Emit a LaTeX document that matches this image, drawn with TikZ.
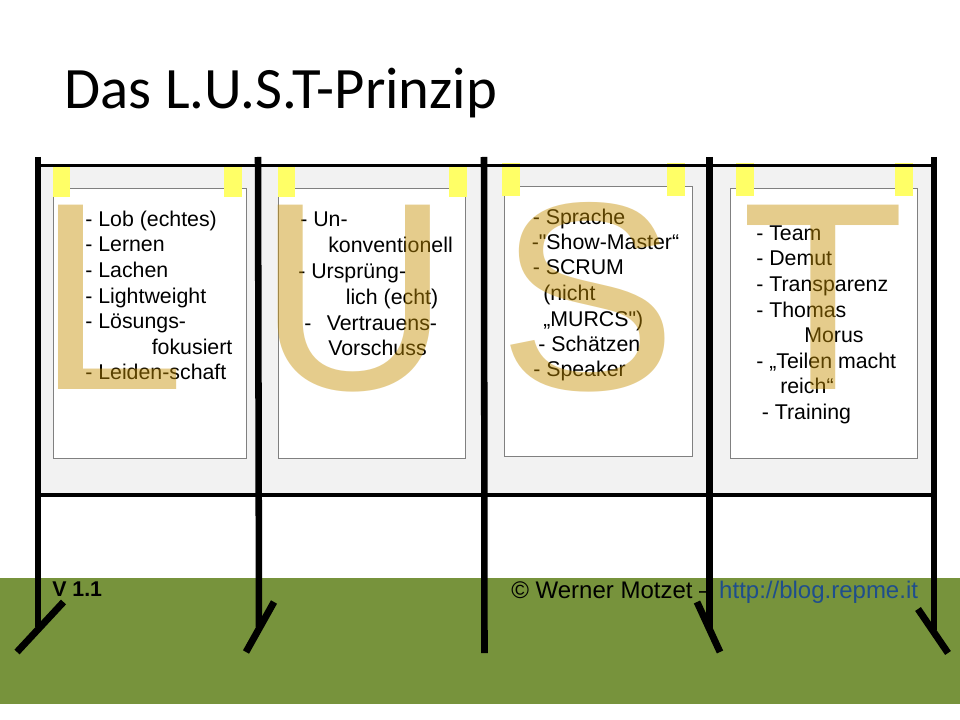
\documentclass[tikz,border=0pt]{standalone}
\usepackage{fontspec}
\setmainfont{Liberation Sans}
\newfontfamily\titlefont{Carlito}
\newfontfamily\bodyfont{Liberation Sans}
\definecolor{panelgrey}{HTML}{F2F2F2}
\definecolor{paperedge}{HTML}{808080}
\definecolor{tapeyellow}{HTML}{FFFF66}
\definecolor{grass}{HTML}{77933C}
\definecolor{urlblue}{HTML}{1F4E8C}
\definecolor{lettercol}{RGB}{199,144,0}
\tikzset{
  panel/.style={fill=panelgrey, draw=none},
  paper/.style={fill=white, draw=paperedge, line width=0.75pt},
  tape/.style={fill=tapeyellow, draw=none},
  post/.style={line width=4.9pt, black},
  bar/.style={line width=2.4pt, black},
  foot/.style={line width=5.2pt, black},
  bodytxt/.style={font=\bodyfont\fontsize{16}{19}\selectfont, anchor=base west, inner sep=0pt},
  bigletter/.style={font=\bodyfont\fontsize{201}{201}\selectfont, text=lettercol, text opacity=0.45, anchor=base west, inner sep=0pt},
}
\begin{document}
\begin{tikzpicture}[x=0.75pt,y=-0.75pt]
\useasboundingbox (0,0) rectangle (960,720);
% ground
\fill[grass] (0,578) rectangle (960,704);
% title
\node[font=\titlefont\fontsize{44}{52}\selectfont, anchor=base west, inner sep=0pt] (title) at (64.5,108.5) {Das L.U.S.T-Prinzip};
% panels
\fill[panel] (38,165) rectangle (258,495);
\fill[panel] (258,165) rectangle (484,495);
\fill[panel] (484,165) rectangle (709,495);
\fill[panel] (709,165) rectangle (934,495);
% papers
\draw[paper] (53.5,188.5) rectangle (246.5,458.5);
\draw[paper] (278.5,188.5) rectangle (465.5,458.5);
\draw[paper] (504.5,186.5) rectangle (692.5,456.5);
\draw[paper] (730.5,188.5) rectangle (917.5,458.5);
% board 1 text
\node[bodytxt] (a1) at (85,226.5) {- Lob (echtes)};
\node[bodytxt] (a2) at (85,252) {- Lernen};
\node[bodytxt] (a3) at (85,277.5) {- Lachen};
\node[bodytxt] (a4) at (85,303) {- Lightweight};
\node[bodytxt] (a5) at (85,328.5) {- Lösungs-};
\node[bodytxt] (a6) at (151.5,354) {fokusiert};
\node[bodytxt] (a7) at (85,379.5) {- Leiden-schaft};
% board 2 text
\node[bodytxt] (b1) at (300,226.5) {- Un-};
\node[bodytxt] (b2) at (328,253) {konventionell};
\node[bodytxt] (b3) at (298,278.5) {- Ursprüng-};
\node[bodytxt] (b4) at (345.5,305) {lich (echt)};
\node[bodytxt] (b5) at (304,330) {-};
\node[bodytxt] (b5b) at (326.5,330) {Vertrauens-};
\node[bodytxt] (b6) at (328,355.5) {Vorschuss};
% board 3 text
\node[bodytxt] (c1) at (532.5,224.5) {- Sprache};
\node[bodytxt] (c2) at (531.5,249.5) {-"Show-Master“};
\node[bodytxt] (c3) at (532.5,275) {- SCRUM};
\node[bodytxt] (c4) at (543,300.5) {(nicht};
\node[bodytxt] (c5) at (543,326.5) {„MURCS")};
\node[bodytxt] (c6) at (538,351.5) {- Schätzen};
\node[bodytxt] (c7) at (533,376.5) {- Speaker};
% board 4 text
\node[bodytxt] (d1) at (756,240.5) {- Team};
\node[bodytxt] (d2) at (756,266) {- Demut};
\node[bodytxt] (d3) at (756,291.5) {- Transparenz};
\node[bodytxt] (d4) at (756,317) {- Thomas};
\node[bodytxt] (d5) at (804,342.5) {Morus};
\node[bodytxt] (d6) at (756,368) {- „Teilen macht};
\node[bodytxt] (d7) at (780,393.5) {reich“};
\node[bodytxt] (d8) at (761.5,419) {- Training};
% big letters
\node[bigletter] (bigL) at (36.5,389) {L};
\node[bigletter] (bigU) at (257,389) {U};
\node[bigletter] (bigS) at (498,389) {S};
\node[bigletter] (bigT) at (741.5,389) {T};
% tapes
\fill[tape] (52.5,164) rectangle (70,197);
\fill[tape] (224,164) rectangle (241.5,197);
\fill[tape] (277.5,164) rectangle (295,197);
\fill[tape] (449,164) rectangle (466.5,197);
\fill[tape] (502,163.5) rectangle (520,196);
\fill[tape] (666.5,163.5) rectangle (685,196);
\fill[tape] (736,163.5) rectangle (754,196);
\fill[tape] (895,163.5) rectangle (913,196);
% bars
\coordinate (tl) at (38,165.5);
\coordinate (tr) at (934,165.5);
\coordinate (bl) at (38,495);
\coordinate (br) at (934,495);
\draw[bar] (tl) -- (tr);
\draw[bar] (bl) -- (br);
% posts
\coordinate (p1t) at (38,157); \coordinate (p1b) at (38,627);
\coordinate (p2t) at (258,157); \coordinate (p2b) at (259,627);
\coordinate (p3t) at (484,157); \coordinate (p3b) at (484.5,653);
\coordinate (p4t) at (709.5,157); \coordinate (p4b) at (709.5,628);
\coordinate (p5t) at (934,157); \coordinate (p5b) at (934,630);
\draw[post] (p1t) -- (p1b);
\draw[post] (p2t) -- (p2b);
\draw[post] (p3t) -- (p3b);
\draw[post] (p4t) -- (p4b);
\draw[post] (p5t) -- (p5b);
% feet
\coordinate (f1a) at (17,652); \coordinate (f1b) at (63.5,602);
\coordinate (f2a) at (246,652); \coordinate (f2b) at (274,602);
\coordinate (f4a) at (697,602); \coordinate (f4b) at (720,652);
\coordinate (f5a) at (918,609); \coordinate (f5b) at (948,653);
\draw[foot] (f1a) -- (f1b);
\draw[foot] (f2a) -- (f2b);
\draw[foot] (f4a) -- (f4b);
\draw[foot] (f5a) -- (f5b);
% footer
\node[font=\bodyfont\bfseries\fontsize{16}{19}\selectfont, anchor=base west, inner sep=0pt] (version) at (52,596) {V 1.1};
\node[font=\bodyfont\fontsize{18}{21}\selectfont, anchor=base west, inner sep=0pt] (copy) at (511,598) {© Werner Motzet – \textcolor{urlblue}{http://blog.repme.it}};
\end{tikzpicture}
\end{document}
